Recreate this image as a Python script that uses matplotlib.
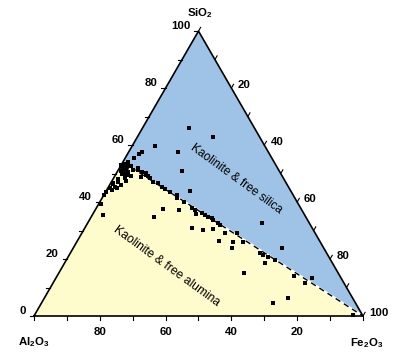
import numpy as np
import matplotlib
matplotlib.use("Agg")
import matplotlib.pyplot as plt

plt.rcParams['font.family'] = ['Liberation Sans', 'DejaVu Sans']
plt.rcParams['mathtext.fontset'] = 'custom'
plt.rcParams['mathtext.rm'] = 'Liberation Sans'
plt.rcParams['mathtext.bf'] = 'Liberation Sans:bold'

# samples (wt %), Al2O3 = 100 - SiO2 - Fe2O3
sio2 = [66, 63, 59.5, 57.5, 57.5, 57, 55.5, 51, 44, 32.7, 24, 13.3,
        54.1, 53, 51.2, 48.4, 47.1, 45.4, 44.8, 43.6, 42.5, 51.2, 48.9, 49.5,
        48.3, 47.1, 46.6, 50.5, 49.1, 49.8, 46.7, 44.2, 44.9, 39.3, 35.4,
        52.5, 50, 52, 50.5, 53.5, 52.8, 51.8, 50.8, 49.5, 48.2, 47.5, 46,
        50.2, 49, 46.2,
        45.2, 44.5, 43.6, 42.5, 41.5, 39.9, 37.9, 37.2, 35.8, 36, 35.4, 34.6,
        34.3, 33.7, 32.5, 31.9, 29.2, 29, 26.1, 22, 21.4, 20.8, 19.6, 14, 11.5,
        37.4, 37.2, 34.6, 31, 30.3, 30.4, 26.4, 23.8, 26.1, 18.5, 15, 4.5, 6.2, 0.5]
fe2o3 = [14, 23, 7, 15, 4, 3.5, 2.5, 19.5, 25.5, 53, 63.5, 78,
         1.5, 0, 4.5, 3.4, 2, 1.8, 0.6, 0.2, 0, 6, 8.2, 9.4,
         11, 12.6, 14.4, 3.3, 5, 1.8, 0.7, 1.5, 2.7, 0.6, 3.4,
         2.5, 2.5, 5.5, 7.5, 1, 3, 2, 1, 3.8, 1.5, 4.2, 3.5,
         9, 10.3, 0.8,
         16.2, 17.6, 19.5, 22.1, 22.7, 25.6, 29, 30.3, 31.3, 33, 34.3, 35.7,
         36.9, 37.7, 39.8, 40.6, 43.5, 47.1, 50.6, 57.7, 59, 60.6, 63.5, 72, 76.7,
         20.6, 25.5, 19.2, 32.4, 36.3, 39.3, 43, 48.4, 47.5, 60.9, 56.4, 70.5, 74, 96.6]

# kaolinite composition (anhydrous)
kao_sio2, kao_fe2o3 = 54, 0
kao_pt_sio2, kao_pt_fe2o3 = 52.3, 1.2

tick_vals = [0, 10, 20, 30, 40, 50, 60, 70, 80, 90, 100]
left_labels = [0, 20, 40, 60, 80, 100]
right_labels = [20, 40, 60, 80, 100]
bottom_labels = [20, 40, 60, 80]

h = np.sqrt(3) / 2


def xy(s, f):
    s = np.asarray(s, dtype=float)
    f = np.asarray(f, dtype=float)
    return f + s / 2, s * h


fig = plt.figure(figsize=(4, 3.54), dpi=100)
ax = fig.add_axes([0, 0, 1, 1])
ax.set_xlim(-10.33, 111.25)
ax.set_ylim(-11.55, 96.05)
ax.axis('off')

kx, ky = xy(kao_sio2, kao_fe2o3)
ax.fill([50, 100, kx], [100 * h, 0, ky], color='#9fc3e6', lw=0, zorder=1)
ax.fill([0, 100, kx], [0, 0, ky], color='#fefbcd', lw=0, zorder=1)
ax.plot([kx, 100], [ky, 0], color='white', lw=1.6, zorder=2)
ax.plot([kx, 100], [ky, 0], color='black', lw=1.0, dashes=(4, 3), zorder=2)

ax.plot([0, 100, 50, 0], [0, 0, 100 * h, 0], color='black', lw=1.2, zorder=3)

L = 1.3
fb = dict(fontsize=8.2, fontweight='bold')
for v in tick_vals:
    # SiO2 along left edge
    x, y = xy(v, 0)
    ax.plot([x, x - L], [y, y], color='black', lw=0.8, zorder=3)
    if v in left_labels:
        ax.text(x - 2.4, y + 1.4, str(v), ha='right', va='center', **fb)
    # Fe2O3 along right edge
    x, y = xy(100 - v, v)
    ax.plot([x, x + L * 0.5], [y, y + L * h], color='black', lw=0.8, zorder=3)
    if v in right_labels:
        ax.text(x + 2.0, y + 0.8, str(v), ha='left', va='center', **fb)
    # Al2O3 along base
    x = 100 - v
    ax.plot([x, x], [0, -L], color='black', lw=0.8, zorder=3)
    if v in bottom_labels:
        ax.text(x, -4.9, str(v), ha='center', va='center', **fb)

ax.text(50.5, 92.1, r'SiO$_\mathbf{2}$', ha='center', va='center', **fb)
ax.text(0, -8.0, r'Al$_\mathbf{2}$O$_\mathbf{3}$', ha='center', va='center', **fb)
ax.text(101, -8.2, r'Fe$_\mathbf{2}$O$_\mathbf{3}$', ha='center', va='center', **fb)

ax.text(61.4, 41.6, 'Kaolinite & free silica', rotation=-36, rotation_mode='anchor',
        ha='center', va='center', fontsize=8.6)
ax.text(40.4, 15.2, 'Kaolinite & free alumina', rotation=-36, rotation_mode='anchor',
        ha='center', va='center', fontsize=8.7)

px, py = xy(sio2, fe2o3)
ax.plot(px, py, 's', color='black', ms=3.2, mew=0, zorder=4)
cx, cy = xy(kao_pt_sio2, kao_pt_fe2o3)
ax.plot(cx, cy, 'o', color='black', ms=6.5, mew=0, zorder=4)

fig.savefig('out.png', dpi=100)
